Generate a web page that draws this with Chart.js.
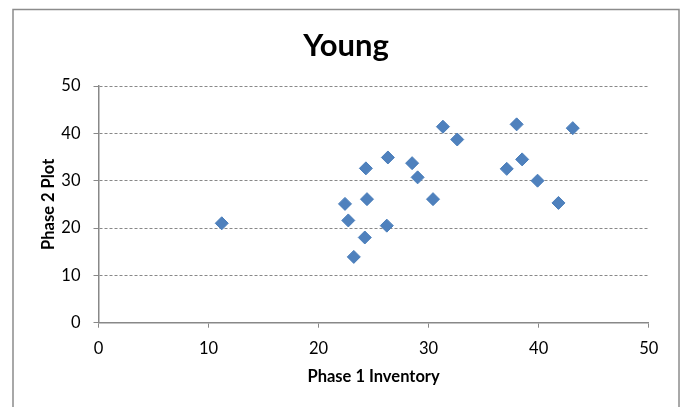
<!DOCTYPE html>
<html>
<head>
<meta charset="utf-8">
<script src="https://cdn.jsdelivr.net/npm/chart.js@4"></script>
<style>
  html, body { margin: 0; padding: 0; background: #fff; }
  #wrap { width: 685px; height: 407px; position: relative; }
</style>
</head>
<body>
<div id="wrap"><canvas id="chart" width="685" height="407"></canvas></div>
<script>
// data
const inventory = [11.2, 22.4, 22.7, 23.2, 24.2, 24.3, 24.4, 26.3, 26.2, 28.5,
                   29.0, 30.4, 31.3, 32.6, 37.1, 38.0, 38.5, 39.9, 41.8, 43.1];
const plot      = [21.0, 25.1, 21.6, 13.9, 18.0, 32.6, 26.1, 34.9, 20.5, 33.7,
                   30.7, 26.1, 41.4, 38.7, 32.5, 41.9, 34.5, 30.0, 25.3, 41.1];
const axisMin = 0, axisMax = 50, axisStep = 10;

const points = inventory.map((x, i) => ({ x: x, y: plot[i] }));

const FONT = "Lato, 'Open Sans', sans-serif";
const GRAY = '#888888';

// outer frame round the chart, like the spreadsheet chart border
const framePlugin = {
  id: 'frame',
  beforeDraw(chart) {
    const ctx = chart.ctx;
    ctx.save();
    ctx.fillStyle = '#fff';
    ctx.fillRect(0, 0, chart.width, chart.height);
    ctx.strokeStyle = '#8c8c8c';
    ctx.lineWidth = 1.5;
    ctx.strokeRect(13, 9.5, 666, chart.height + 10);
    ctx.restore();
  }
};

new Chart(document.getElementById('chart'), {
  type: 'scatter',
  data: {
    datasets: [{
      label: 'Young',
      data: points,
      pointStyle: 'rectRot',
      pointRadius: 6.5,
      pointHoverRadius: 6.5,
      backgroundColor: '#4F81BD',
      borderColor: '#4A7EBB',
      borderWidth: 1
    }]
  },
  options: {
    responsive: false,
    animation: false,
    layout: { padding: { top: 0, left: 7, right: 0, bottom: 0 } },
    plugins: {
      legend: { display: false },
      tooltip: { enabled: false },
      title: {
        display: true,
        text: 'Young',
        color: '#000',
        font: { family: FONT, size: 31, weight: 'bold', lineHeight: 1.2 },
        padding: { top: 27.4, bottom: 21.4 }
      }
    },
    scales: {
      x: {
        type: 'linear',
        min: axisMin, max: axisMax,
        ticks: { stepSize: axisStep, color: '#000', padding: 11,
                 font: { family: FONT, size: 16.5 } },
        grid: { drawOnChartArea: false, drawTicks: true, tickLength: 5,
                color: GRAY, tickColor: GRAY },
        border: { display: true, color: GRAY, width: 1.5 },
        title: { display: true, text: 'Phase 1 Inventory', color: '#000',
                 font: { family: FONT, size: 16.5, weight: 'bold', lineHeight: 1.2 },
                 padding: { top: 0, bottom: 20 } },
        afterFit(scale) { scale.height = 84.3; }
      },
      y: {
        type: 'linear',
        min: axisMin, max: axisMax,
        ticks: { stepSize: axisStep, color: '#000', padding: 13,
                 font: { family: FONT, size: 16.5 } },
        grid: { drawOnChartArea: true, drawTicks: true, tickLength: 5,
                color: GRAY, tickColor: GRAY, lineWidth: 1, tickBorderDash: [] },
        border: { display: true, color: GRAY, width: 1.5, dash: [3, 2] },
        title: { display: true, text: 'Phase 2 Plot', color: '#000',
                 font: { family: FONT, size: 16.5, weight: 'bold', lineHeight: 1.2 },
                 padding: { top: 32, bottom: 0 } },
        afterFit(scale) { scale.width = 91.5; }
      },
      // empty right-hand spacer so the plot ends where the reference does
      spacer: {
        type: 'linear',
        position: 'right',
        display: true,
        min: axisMin, max: axisMax,
        ticks: { display: false },
        grid: { display: false },
        border: { display: false },
        afterFit(scale) { scale.width = 36.3; }
      }
    }
  },
  plugins: [framePlugin]
});
</script>
</body>
</html>
